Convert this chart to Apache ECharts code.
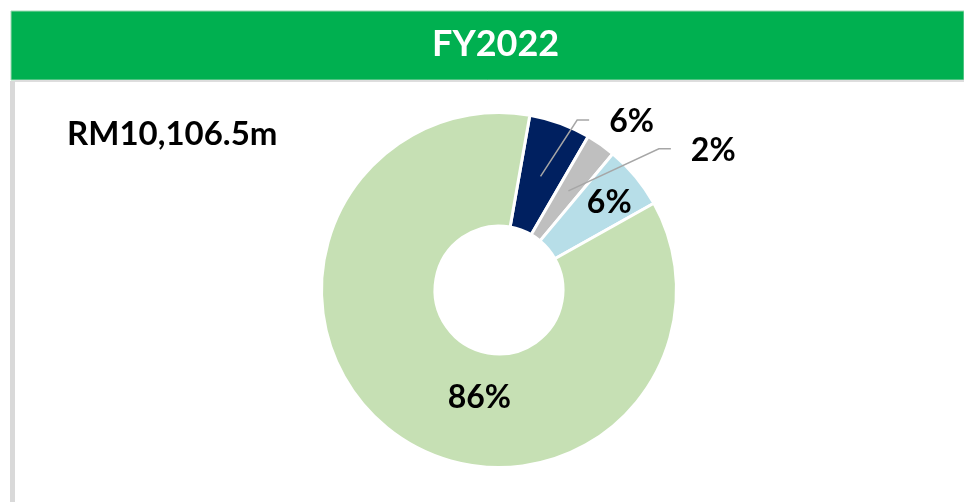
<!DOCTYPE html>
<html>
<head>
<meta charset="utf-8">
<script src="https://cdn.jsdelivr.net/npm/echarts@6/dist/echarts.min.js"></script>
<style>
  html, body { margin: 0; padding: 0; background: #fff; }
  #myChart { width: 964px; height: 502px; }
</style>
</head>
<body>
<div id="myChart"></div>
<script>
// slice data, clockwise from the top
const categories = ['Navy', 'Grey', 'Light blue', 'Green']
const values = [5.6, 2.7, 5.8, 85.9]
const labels = ['6%', '2%', '6%', '86%']
const colors = ['#002060', '#BFBFBF', '#B7DEE8', '#C6E0B4']
const titleText = 'FY2022'
const totalText = 'RM10,106.5m'

const FONT = 'Lato, "Open Sans", sans-serif'
const CX = 499
const CY = 290

// label nudges (Excel puts them a bit off the mid-angle)
const nudge = [[23, 2], [63, 9], [15, -8], [52, 7]]

const myChart = echarts.init(document.getElementById('myChart'))

const mainData = values.map((v, i) => ({
  name: categories[i],
  value: v,
  itemStyle: { color: colors[i] },
  label: { show: i >= 2 }
}))
// transparent copy, only used to hang the outside labels + leader lines from mid ring
const leaderData = values.map((v, i) => ({
  name: categories[i],
  value: v,
  label: { show: i < 2 },
  labelLine: { show: i < 2 }
}))

const option = {
  animation: false,
  graphic: [
    {
      type: 'rect',
      shape: { x: 11, y: 11, width: 953, height: 69 },
      style: { fill: '#00B050', stroke: '#9FD9B4', lineWidth: 1 },
      z: 0
    },
    {
      type: 'rect',
      shape: { x: 10, y: 81, width: 5, height: 421 },
      style: { fill: '#D9D9D9' },
      z: 0
    },
    {
      type: 'rect',
      shape: { x: 15, y: 80, width: 949, height: 2 },
      style: { fill: '#DDDDDD' },
      z: 0
    }
  ],
  title: [
    {
      text: titleText,
      left: 432,
      top: 26,
      padding: 0,
      textStyle: { color: '#fff', fontFamily: FONT, fontWeight: 'bold', fontSize: 36 }
    },
    {
      text: totalText,
      left: 67,
      top: 118,
      padding: 0,
      textStyle: { color: '#000', fontFamily: FONT, fontWeight: 'bold', fontSize: 33 }
    }
  ],
  series: [
    {
      type: 'pie',
      center: [CX, CY],
      radius: [64, 177.5],
      startAngle: 80,
      clockwise: true,
      avoidLabelOverlap: false,
      silent: true,
      itemStyle: { borderColor: '#fff', borderWidth: 3 },
      label: {
        position: 'inside',
        color: '#000',
        fontFamily: FONT,
        fontWeight: 'bold',
        fontSize: 32,
        formatter: p => labels[p.dataIndex]
      },
      labelLine: { show: false },
      labelLayout: p => ({ dx: nudge[p.dataIndex][0], dy: nudge[p.dataIndex][1] }),
      data: mainData
    },
    {
      type: 'pie',
      center: [CX, CY],
      radius: [0, 121],
      startAngle: 80,
      clockwise: true,
      avoidLabelOverlap: false,
      silent: true,
      z: 5,
      itemStyle: { color: 'rgba(0,0,0,0)' },
      label: {
        position: 'outside',
        color: '#000',
        fontFamily: FONT,
        fontWeight: 'bold',
        fontSize: 32,
        formatter: p => labels[p.dataIndex]
      },
      labelLine: {
        length: 60,
        length2: 20,
        lineStyle: { color: '#A6A6A6', width: 1.5 }
      },
      labelLayout: function (p) {
        const d = nudge[p.dataIndex]
        const r = p.labelRect
        const start = p.labelLinePoints ? p.labelLinePoints[0] : [CX, CY]
        const ex = r.x + d[0] - 20
        const ey = r.y + r.height / 2 + d[1] - 2
        return {
          dx: d[0],
          dy: d[1],
          labelLinePoints: [start, [ex - 12, ey], [ex, ey]]
        }
      },
      data: leaderData
    }
  ]
}
myChart.setOption(option)
</script>
</body>
</html>
